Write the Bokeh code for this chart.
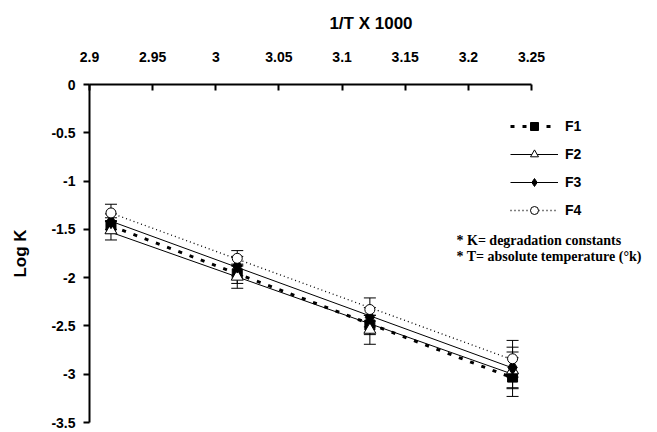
import numpy as np
from bokeh.plotting import figure
from bokeh.models import (Range1d, FixedTicker, CustomJSTickFormatter, Legend, LegendItem,
                          Whisker, TeeHead, ColumnDataSource, Label)
from bokeh.embed import file_html
from bokeh.resources import INLINE

# ---------------- data ----------------
x_vals = [2.917, 3.017, 3.122, 3.235]          # 1/T x 1000

f1 = [-1.46, -1.96, -2.49, -3.03]
f2 = [-1.51, -1.99, -2.54, -2.96]
f3 = [-1.42, -1.88, -2.41, -2.93]
f4 = [-1.33, -1.80, -2.33, -2.84]

err_f1 = [0.08, 0.10, 0.10, 0.20]
err_f2 = [0.10, 0.12, 0.15, 0.19]
err_f3 = [0.08, 0.10, 0.10, 0.21]
err_f4 = [0.09, 0.08, 0.12, 0.19]

series_names = ["F1", "F2", "F3", "F4"]

x_ticks = [2.9, 2.95, 3.0, 3.05, 3.1, 3.15, 3.2, 3.25]
x_tick_labels = ["2.9", "2.95", "3", "3.05", "3.1", "3.15", "3.2", "3.25"]
y_ticks = [0, -0.5, -1, -1.5, -2, -2.5, -3, -3.5]
y_tick_labels = ["0", "-0.5", "-1", "-1.5", "-2", "-2.5", "-3", "-3.5"]

x_title = "1/T X 1000"
y_title = "Log K"
notes = ["* K= degradation constants", "* T= absolute temperature (\u00b0k)"]

# ---------------- figure ----------------
FONT = "Liberation Sans"
p = figure(width=657, height=432, output_backend="svg", toolbar_location=None,
           x_axis_location="above",
           x_range=Range1d(2.9, 3.3458), y_range=Range1d(-3.5, 0),
           min_border_left=89, min_border_top=84, min_border_right=5, min_border_bottom=10)
p.outline_line_color = None
p.xgrid.grid_line_color = None
p.ygrid.grid_line_color = None
p.background_fill_color = "white"
p.border_fill_color = "white"

fmt_code = """
let i = tvals.findIndex(t => Math.abs(t - tick) < 1e-6);
return i >= 0 ? tlabels[i] : '';
"""

xa = p.xaxis[0]
xa.bounds = (2.9, 3.25)
xa.ticker = FixedTicker(ticks=x_ticks, minor_ticks=[])
xa.formatter = CustomJSTickFormatter(args=dict(tvals=x_ticks, tlabels=x_tick_labels), code=fmt_code)
xa.major_tick_in = 6
xa.major_tick_out = 0
xa.minor_tick_in = 0
xa.minor_tick_out = 0
xa.axis_line_width = 2
xa.major_tick_line_width = 2
xa.major_label_standoff = 23
xa.axis_label = x_title
xa.axis_label_standoff = 16

ya = p.yaxis[0]
ya.ticker = FixedTicker(ticks=y_ticks, minor_ticks=[])
ya.formatter = CustomJSTickFormatter(args=dict(tvals=y_ticks, tlabels=y_tick_labels), code=fmt_code)
ya.major_tick_in = 0
ya.major_tick_out = 6
ya.minor_tick_in = 0
ya.minor_tick_out = 0
ya.axis_line_width = 2
ya.major_tick_line_width = 2
ya.major_label_standoff = 8
ya.axis_label = y_title
ya.axis_label_standoff = 18

for ax in (xa, ya):
    ax.major_label_text_font = FONT
    ax.major_label_text_font_style = "bold"
    ax.major_label_text_font_size = "14px"
    ax.major_label_text_color = "black"
    ax.axis_label_text_font = FONT
    ax.axis_label_text_font_style = "bold"
    ax.axis_label_text_font_size = "17px"
    ax.axis_label_text_color = "black"
    ax.axis_line_color = "black"
    ax.major_tick_line_color = "black"

# ---------------- series ----------------
series = [
    dict(name="F1", y=f1, e=err_f1, dash="4 8", lw=3, marker="square", size=10, fill="black"),
    dict(name="F2", y=f2, e=err_f2, dash="solid", lw=1, marker="triangle", size=12, fill="white"),
    dict(name="F3", y=f3, e=err_f3, dash="solid", lw=1, marker="diamond", size=14, fill="black"),
    dict(name="F4", y=f4, e=err_f4, dash="1 3", lw=1.3, marker="circle", size=10, fill="white"),
]

xs = np.array(x_vals)
items = []
for s in series:
    ys = np.array(s["y"])
    slope, icpt = np.polyfit(xs, ys, 1)
    fx = [float(xs.min()), float(xs.max())]
    fy = [float(slope * v + icpt) for v in fx]
    s["lr"] = p.line(fx, fy, line_color="black", line_width=s["lw"], line_dash=s["dash"])

for s in series:
    ys = np.array(s["y"])
    es = np.array(s["e"])
    src = ColumnDataSource(dict(x=x_vals, y=list(ys), upper=list(ys + es), lower=list(ys - es)))
    w = Whisker(base="x", upper="upper", lower="lower", source=src,
                line_color="black", line_width=1,
                upper_head=TeeHead(size=12, line_color="black", line_width=1),
                lower_head=TeeHead(size=12, line_color="black", line_width=1))
    p.add_layout(w)
    s["src"] = src

for s in series:
    mr = p.scatter("x", "y", source=s["src"], marker=s["marker"], size=s["size"],
                   fill_color=s["fill"], line_color="black", line_width=1)
    items.append(LegendItem(label=s["name"], renderers=[s["lr"], mr]))

legend = Legend(items=items, location=(421, 202), orientation="vertical",
                glyph_width=48, glyph_height=20, label_height=20, spacing=8,
                label_standoff=7, padding=0, margin=0,
                border_line_color=None, background_fill_alpha=0,
                label_text_font=FONT, label_text_font_style="bold",
                label_text_font_size="14px", label_text_color="black")
p.add_layout(legend)

note_x = [3.1906, 3.1906]
note_y = [-1.615, -1.776]
for t, nx, ny in zip(notes, note_x, note_y):
    p.add_layout(Label(x=nx, y=ny, text=t, text_font="Liberation Serif",
                       text_font_style="bold", text_font_size="14px",
                       text_baseline="middle", text_color="black"))

open("out.html", "w").write(file_html(p, INLINE))
